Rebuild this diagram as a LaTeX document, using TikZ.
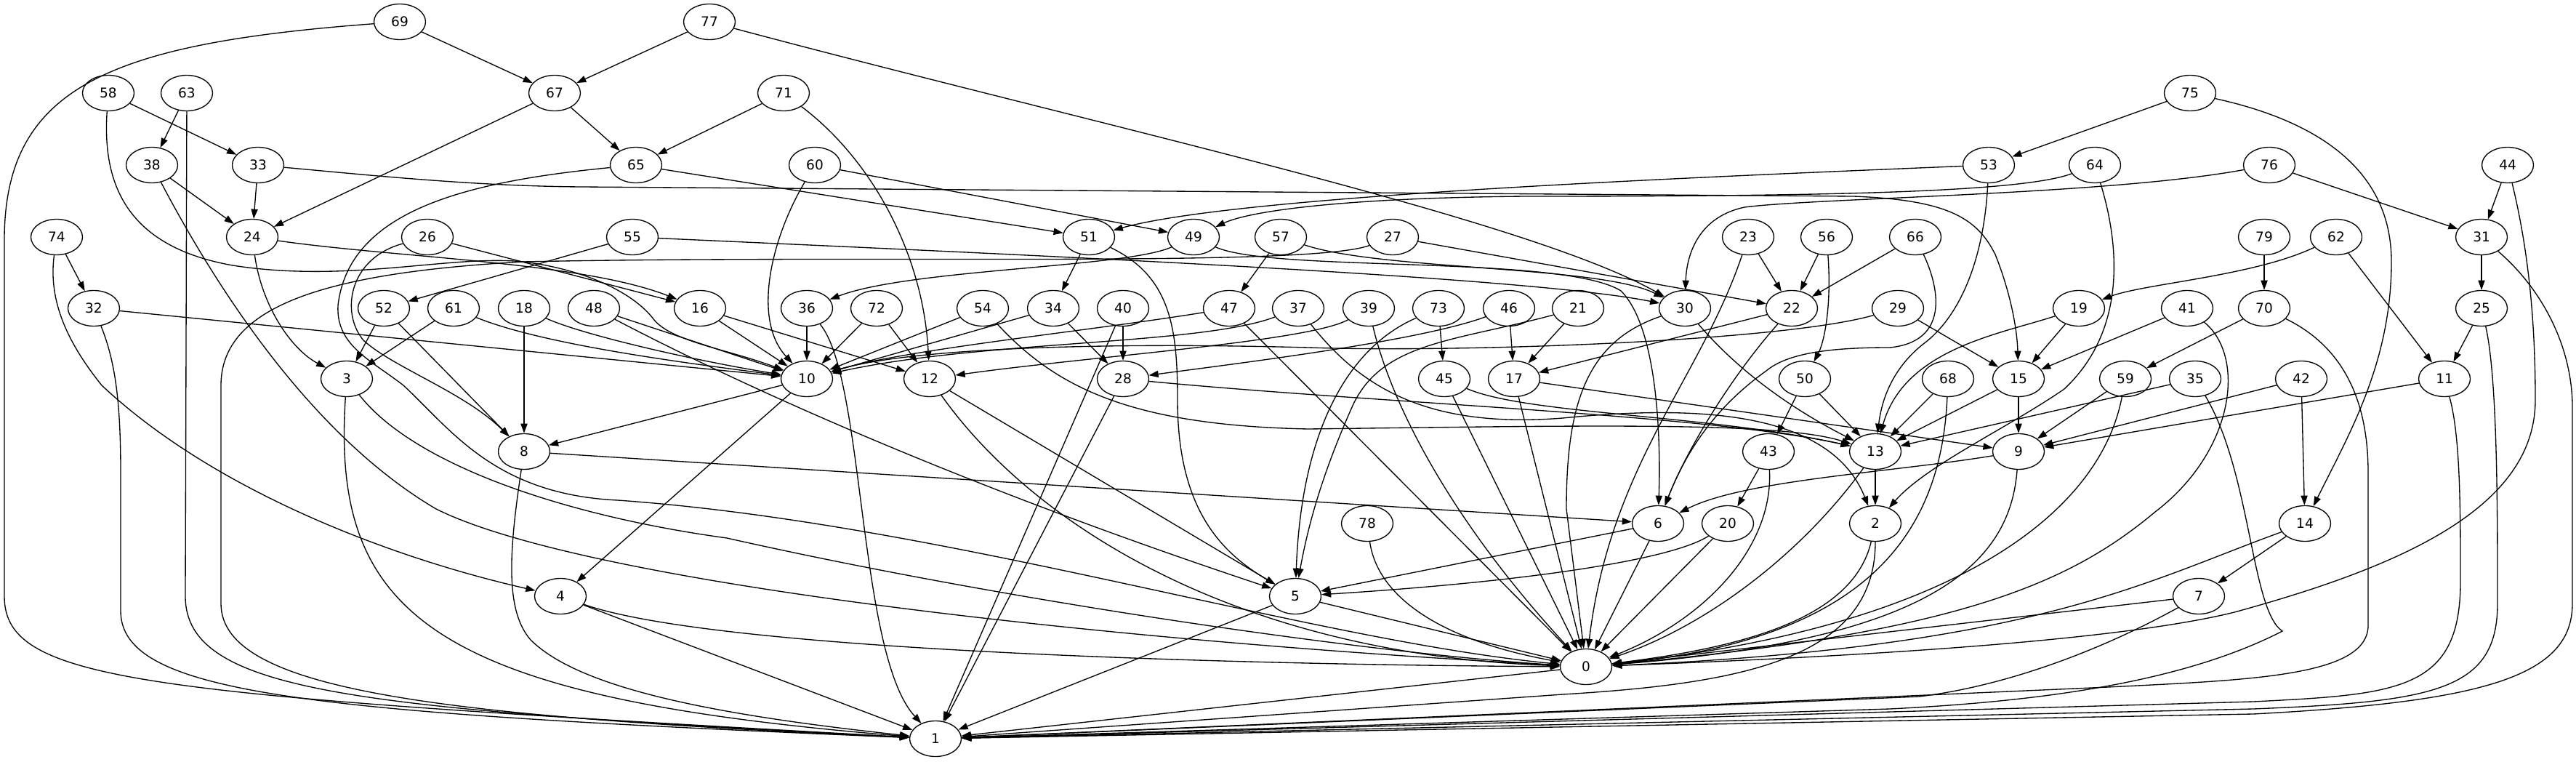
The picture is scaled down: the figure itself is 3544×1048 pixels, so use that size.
\documentclass[tikz,border=0pt]{standalone}
\usepackage{fontspec}
\newfontfamily\dejavu{DejaVu Sans}
\usetikzlibrary{shapes.geometric,arrows.meta}
\begin{document}
\begin{tikzpicture}[x=0.75pt,y=-0.75pt,line width=1pt,
  vx/.style={ellipse,draw,minimum width=53.25pt,minimum height=36.75pt,inner sep=0pt,font=\dejavu\fontsize{13.9}{16}\selectfont},
  arr/.style={-{Triangle[length=9.9pt,width=6.9pt]}}]
\useasboundingbox (0,0) rectangle (3544,1048);
\foreach \n/\x/\y in {69/550/30, 77/976/30,
  58/149/128, 63/257/128, 67/763/128, 71/1078/128, 75/3013/128,
  38/209/227, 33/355/227, 65/875/227, 60/1121/227, 53/2736/227, 64/2882/227, 76/3122/227, 44/3450/227,
  74/78/326, 24/347/326, 26/588/326, 55/870/326, 51/1498/326, 49/1642/326, 57/1762/326, 27/1916/326,
  23/2405/326, 56/2513/326, 66/2635/326, 79/3115/326, 62/3214/326, 31/3414/326,
  32/129/424, 52/528/424, 61/624/424, 18/721/424, 48/817/424, 16/963/424, 36/1110/424, 72/1206/424,
  54/1352/424, 34/1449/424, 40/1545/424, 47/1691/424, 37/1786/424, 39/1883/424, 73/1979/424, 46/2076/424,
  21/2171/424, 30/2318/424, 22/2465/424, 29/2611/424, 19/2860/424, 41/3009/424, 70/3115/424, 25/3414/424,
  3/477/521, 10/1110/521, 12/1279/521, 28/1545/521, 45/1987/521, 17/2083/521, 50/2483/521, 68/2680/521,
  15/2777/521, 59/2924/521, 35/3020/521, 42/3166/521, 11/3363/521,
  8/721/621, 43/2433/621, 13/2580/621, 9/2777/621,
  78/1881/720, 6/2281/720, 20/2377/720, 2/2580/720, 14/3171/720,
  4/771/820, 5/1782/820, 7/3025/820, 0/2182/917, 1/1287/1016}
  \node[vx] (n\n) at (\x,\y) {\n};
\foreach \a/\b in {69/67, 77/67, 58/33, 63/38, 67/24, 67/65, 71/65, 75/53, 38/24, 33/24, 65/51, 60/49,
  76/31, 44/31, 74/32, 26/16, 55/52, 51/34, 57/47, 27/22, 23/22, 56/22, 66/22, 32/10, 52/3, 61/3, 52/8,
  18/8, 48/10, 16/10, 16/12, 36/10, 72/10, 72/12, 54/10, 34/10, 34/28, 40/28, 40/1, 73/45, 21/17, 46/17,
  22/17, 50/43, 50/13, 68/13, 19/15, 41/15, 29/15, 79/70, 70/59, 62/11, 31/25, 25/11, 42/14, 14/7, 15/9,
  15/13, 59/9, 42/9, 11/9, 35/13, 17/9, 17/0, 45/0, 47/0, 10/8, 10/4, 12/5, 28/1, 5/1, 0/1, 8/6, 43/20,
  6/5, 20/0, 6/0, 5/0, 13/2, 7/0, 4/1}
  \draw[arr] (n\a) -- (n\b);
\foreach \a/\b/\p/\q/\r/\s in {3/1/455/850/600/960, 36/1/1190/520/1180/900, 4/0/1000/900/1800/915,
  9/0/2765/780/2650/880, 59/0/2890/700/2700/860, 14/0/2950/800/2800/890, 68/0/2670/750/2550/880,
  13/0/2480/760/2350/860, 2/0/2550/850/2400/890, 43/0/2440/750/2350/850, 23/0/2340/520/2215/640,
  39/0/1915/560/2000/720, 12/0/1420/720/1700/900, 78/0/1895/820/1980/880, 60/10/1060/330/1035/440,
  71/12/1200/220/1270/350, 53/51/2300/245/1700/270, 57/30/1900/372/2200/365, 24/16/550/355/800/360,
  24/3/360/420/400/480, 49/36/1550/368/1250/370, 22/6/2380/520/2320/620, 9/6/2600/650/2400/660,
  48/5/1000/520/1300/660, 73/5/1850/480/1790/600, 46/28/1950/470/1700/500, 37/10/1650/475/1350/468,
  47/10/1500/455/1250/480, 39/12/1800/470/1500/490, 28/13/1900/555/2350/570, 45/13/2100/570/2350/570,
  30/13/2400/520/2480/570, 56/50/2520/420/2510/470, 19/13/2750/460/2620/480, 62/19/3100/380/2950/390,
  55/30/1400/350/2100/380, 77/30/1500/170/2100/300, 61/10/750/475/950/500, 18/10/800/460/950/495,
  20/5/2300/770/2100/800}
  \draw[arr] (n\a) .. controls (\p,\q) and (\r,\s) .. (n\b);
% long ones
\draw[arr] (n69) .. controls (150,60) and (6,120) .. (6,330) -- (6,820) .. controls (6,940) and (200,955) .. (n1);
\draw[arr] (n63) -- (255,820) .. controls (255,955) and (500,975) .. (n1);
\draw[arr] (n32) .. controls (160,500) and (166,560) .. (166,650) -- (166,840) .. controls (166,955) and (420,980) .. (n1);
\draw[arr] (n27) .. controls (1800,368) and (1200,350) .. (720,360) .. controls (450,375) and (304,420) .. (304,530) -- (304,830) .. controls (304,950) and (600,985) .. (n1);
\draw[arr] (n8) .. controls (700,760) and (695,840) .. (730,880) .. controls (800,950) and (1000,985) .. (n1);
\draw[arr] (n2) .. controls (2580,905) and (2400,940) .. (2150,955) -- (n1);
\draw[arr] (n7) .. controls (2880,900) and (2750,945) .. (2640,958) -- (n1);
\draw[arr] (n35) .. controls (3097,650) and (3097,840) .. (3140,868) .. controls (3000,940) and (2800,965) .. (2600,975) -- (n1);
\draw[arr] (n70) .. controls (3230,480) and (3258,560) .. (3258,650) -- (3258,860) .. controls (3258,930) and (3100,935) .. (2900,945) -- (n1);
\draw[arr] (n11) .. controls (3385,600) and (3385,700) .. (3385,800) .. controls (3385,950) and (3300,955) .. (3100,965) -- (n1);
\draw[arr] (n25) .. controls (3436,520) and (3436,700) .. (3436,830) .. controls (3436,950) and (3350,965) .. (3100,975) -- (n1);
\draw[arr] (n31) .. controls (3500,400) and (3539,480) .. (3539,560) -- (3539,830) .. controls (3539,930) and (3420,965) .. (3100,982) -- (n1);
\draw[arr] (n41) .. controls (3090,490) and (3075,620) .. (2965,704) .. controls (2850,800) and (2700,870) .. (n0);
\draw[arr] (n44) .. controls (3480,350) and (3488,450) .. (3488,550) .. controls (3488,700) and (3300,780) .. (3074,842) .. controls (2900,885) and (2500,905) .. (n0);
\draw[arr] (n30) .. controls (2180,470) and (2155,560) .. (2155,700) -- (n0);
\draw[arr] (n65) .. controls (640,250) and (480,290) .. (465,420) .. controls (462,475) and (510,495) .. (555,530) .. controls (620,590) and (680,680) .. (850,688) .. controls (1300,720) and (1800,880) .. (n0);
\draw[arr] (n26) .. controls (480,355) and (468,430) .. (500,468) .. controls (540,505) and (640,540) .. (n8);
\draw[arr] (n38) .. controls (300,400) and (430,600) .. (600,700) .. controls (800,800) and (1500,880) .. (n0);
\draw[arr] (n3) .. controls (570,640) and (780,710) .. (1000,740) .. controls (1400,830) and (1900,900) .. (n0);
\draw[arr] (n74) .. controls (65,420) and (100,480) .. (140,530) .. controls (300,680) and (550,770) .. (n4);
\draw[arr] (n58) .. controls (140,260) and (180,340) .. (320,365) .. controls (480,390) and (620,350) .. (720,360) .. controls (800,370) and (870,400) .. (900,440) .. controls (925,470) and (1000,480) .. (n10);
\draw[arr] (n33) .. controls (500,240) and (650,256) .. (800,257) -- (2550,270) .. controls (2680,275) and (2720,300) .. (2745,350) .. controls (2765,400) and (2775,450) .. (n15);
\draw[arr] (n76) .. controls (2900,268) and (2500,272) .. (2400,285) .. controls (2330,300) and (2320,360) .. (n30);
\draw[arr] (n64) .. controls (2780,265) and (2500,270) .. (2100,270) .. controls (1850,272) and (1720,290) .. (n49);
\draw[arr] (n49) .. controls (1750,375) and (2150,350) .. (2230,400) .. controls (2280,450) and (2285,600) .. (n6);
\draw[arr] (n66) .. controls (2670,400) and (2680,470) .. (2600,478) .. controls (2520,478) and (2460,485) .. (2430,510) .. controls (2360,560) and (2320,620) .. (n6);
\draw[arr] (n51) .. controls (1610,380) and (1620,450) .. (1620,550) .. controls (1620,700) and (1680,760) .. (n5);
\draw[arr] (n21) .. controls (2000,470) and (1900,470) .. (1860,560) .. controls (1820,650) and (1800,720) .. (n5);
\draw[arr] (n29) .. controls (2450,470) and (2000,485) .. (1800,478) .. controls (1500,470) and (1250,480) .. (n10);
\draw[arr] (n37) .. controls (1870,530) and (1960,590) .. (2150,575) .. controls (2350,555) and (2520,570) .. (n2);
\draw[arr] (n64) .. controls (2920,350) and (2920,460) .. (2840,535) .. controls (2760,590) and (2650,640) .. (n2);
\draw[arr] (n53) .. controls (2730,350) and (2700,430) .. (2650,470) .. controls (2610,500) and (2590,540) .. (n13);
\draw[arr] (n75) .. controls (3250,180) and (3290,280) .. (3290,360) .. controls (3290,500) and (3230,600) .. (n14);
\draw[arr] (n54) .. controls (1450,530) and (1550,585) .. (1800,590) .. controls (2200,585) and (2450,580) .. (n13);
\end{tikzpicture}
\end{document}
